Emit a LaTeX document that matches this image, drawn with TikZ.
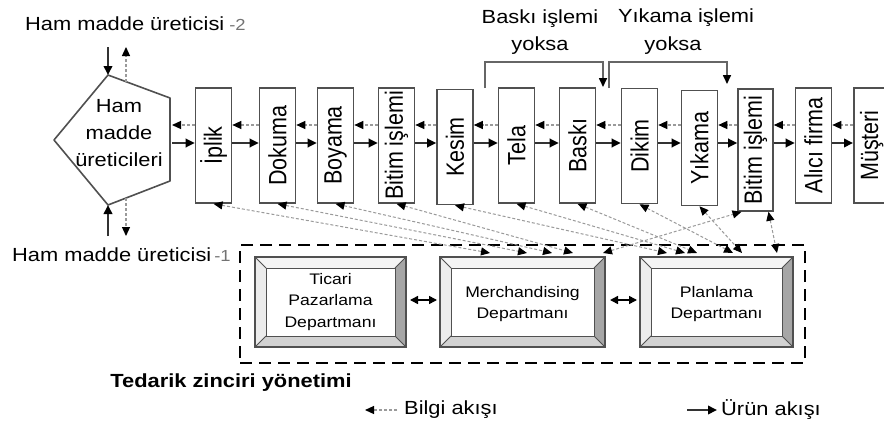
\documentclass[tikz,border=0pt]{standalone}
\usepackage{fontspec}
\setmainfont{Liberation Sans}[FakeStretch=1.15]
\newfontfamily\rotfont{Liberation Sans}[FakeStretch=0.86]
\usetikzlibrary{arrows.meta}
\definecolor{bordergray}{HTML}{505050}
\definecolor{bevtop}{HTML}{F4F4F4}
\definecolor{bevleft}{HTML}{ECECEC}
\definecolor{bevright}{HTML}{A6A6A6}
\definecolor{bevbottom}{HTML}{D2D2D2}
\definecolor{infogray}{HTML}{9A9A9A}
\newcommand\bevelbox[1]{%
  \fill[bevtop] (#1.north west) -- (#1.north east) -- ([shift={(-11,11)}]#1.north east) -- ([shift={(11,11)}]#1.north west) -- cycle;
  \fill[bevleft] (#1.north west) -- ([shift={(11,11)}]#1.north west) -- ([shift={(11,-11)}]#1.south west) -- (#1.south west) -- cycle;
  \fill[bevright] (#1.north east) -- ([shift={(-11,11)}]#1.north east) -- ([shift={(-11,-11)}]#1.south east) -- (#1.south east) -- cycle;
  \fill[bevbottom] (#1.south west) -- ([shift={(11,-11)}]#1.south west) -- ([shift={(-11,-11)}]#1.south east) -- (#1.south east) -- cycle;
  \draw[bordergray, line width=1pt] ([shift={(11,11)}]#1.north west) rectangle ([shift={(-11,-11)}]#1.south east);
  \draw[bordergray, line width=0.8pt] (#1.north west) -- ([shift={(11,11)}]#1.north west)
     (#1.north east) -- ([shift={(-11,11)}]#1.north east)
     (#1.south west) -- ([shift={(11,-11)}]#1.south west)
     (#1.south east) -- ([shift={(-11,-11)}]#1.south east);
  \draw[bordergray, line width=1.3pt] (#1.north west) rectangle (#1.south east);
}
\begin{document}
\begin{tikzpicture}[x=1pt,y=-1pt,
  pbox/.style={draw=bordergray, line width=1.6pt, fill=white, minimum width=36pt, minimum height=115pt, inner sep=0pt, font=\rotfont\fontsize{25}{25}\selectfont},
  dept/.style={fill=white, minimum height=90pt, inner sep=0pt, outer sep=0pt},
  depttext/.style={font=\fontsize{15.3}{21.5}\selectfont, align=center, inner sep=0pt},
  info/.style={draw=infogray, line width=1.2pt, dash pattern=on 3pt off 2pt, -{Triangle[length=9pt,width=8pt,color=black]}},
  infoboth/.style={draw=infogray, line width=1pt, dash pattern=on 3pt off 2pt, {Triangle[length=9pt,width=8pt,color=black]}-{Triangle[length=9pt,width=8pt,color=black]}},
  prod/.style={draw=black!80, line width=1.9pt, -{Triangle[length=9pt,width=8.5pt,color=black]}},
  dbl/.style={draw=black, line width=1.5pt, {Triangle[length=8pt,width=8pt]}-{Triangle[length=8pt,width=8pt]}},
  bracket/.style={draw=black!60, line width=1.6pt, -{Triangle[length=9pt,width=8pt,color=black]}},
  lbl/.style={font=\fontsize{19}{27}\selectfont, inner sep=0pt},
  region/.style={draw=black, line width=2.6pt, dash pattern=on 12pt off 7pt, minimum width=565pt, minimum height=118pt, inner sep=0pt}
]
\useasboundingbox (0,0) rectangle (884,423);
\fill[white] (0,0) rectangle (884,423);

% pentagon
\coordinate (p1) at (108,75);
\coordinate (p2) at (170,98);
\coordinate (p3) at (170,181);
\coordinate (p4) at (108,205);
\coordinate (p5) at (54,140);
\draw[bordergray, line width=1.6pt, line join=round] (p1) -- (p2) -- (p3) -- (p4) -- (p5) -- cycle;
\node[lbl, align=center] (hm) at (119,133.5) {Ham\\madde\\üreticileri};

% top / bottom labels
\node[lbl, anchor=west] (top) at (25,24) {Ham madde üreticisi\hspace{5pt}{\color{black!55}\fontsize{16}{16}\selectfont -2}};
\node[lbl, anchor=west] (bot) at (12,255) {Ham madde üreticisi\hspace{3pt}{\color{black!55}\fontsize{16}{16}\selectfont -1}};

% vertical arrows at pentagon
\coordinate (ht1) at (108,47);
\coordinate (pt2) at (126,82);
\coordinate (ht2) at (126,47);
\coordinate (hb1) at (108,236);
\coordinate (pb2) at (126,198);
\coordinate (hb2) at (126,236);
\draw[prod] (ht1) -- (p1);
\draw[info] (pt2) -- (ht2);
\draw[prod] (hb1) -- (p4);
\draw[info] (pb2) -- (hb2);

% process boxes
\node[pbox] (iplik)  at (213.5,145.5) {\rotatebox{90}{İplik}};
\node[pbox] (dokuma) at (277.5,145.5) {\rotatebox{90}{Dokuma}};
\node[pbox] (boyama) at (335.5,145.5) {\rotatebox{90}{Boyama}};
\node[pbox] (bitima) at (396.5,145.5) {\rotatebox{90}{Bitim işlemi}};
\node[pbox] (kesim)  at (455,147) {\rotatebox{90}{Kesim}};
\node[pbox] (tela)   at (516.5,145.5) {\rotatebox{90}{Tela}};
\node[pbox] (baski)  at (577.5,145.5) {\rotatebox{90}{Baskı}};
\node[pbox] (dikim)  at (639.5,146) {\rotatebox{90}{Dikim}};
\node[pbox] (yikama) at (699.5,148) {\rotatebox{90}{Yıkama}};
\node[pbox, minimum width=35pt, minimum height=122pt] (bitimb) at (755.5,150) {\rotatebox{90}{Bitim işlemi}};
\node[pbox] (alici)  at (813.5,145.5) {\rotatebox{90}{Alıcı firma}};
\node[pbox, anchor=west] (musteri) at (853,145.5) {\rotatebox{90}{Müşteri}};

% pentagon <-> İplik
\coordinate (pr1) at (172,125);
\coordinate (pr2) at (172,143);
\draw[info] (iplik.west |- pr1) -- (pr1);
\draw[prod] (pr2) -- (iplik.west |- pr2);

% flows between boxes
\coordinate (yi) at (0,125);
\coordinate (yp) at (0,143);
\foreach \a/\b in {iplik/dokuma, dokuma/boyama, boyama/bitima, bitima/kesim, kesim/tela, tela/baski, baski/dikim, dikim/yikama, yikama/bitimb, bitimb/alici, alici/musteri}{
  \draw[info] (\b.west |- yi) -- (\a.east |- yi);
  \draw[prod] (\a.east |- yp) -- (\b.west |- yp);
}

% brackets
\coordinate (bk1) at (485,88);
\coordinate (bk2) at (603,87);
\coordinate (yk1) at (609,88);
\coordinate (yk2) at (727,84);
\draw[bracket] (bk1) -- ++(0,-26) -| (bk2);
\draw[bracket, -] (yk1) -- ++(0,-26) -| ([yshift=8pt]yk2);
\draw[bracket] ([yshift=9pt]yk2) -- (yk2);
\node[lbl, align=center] (bl) at (540,32) {Baskı işlemi\\yoksa};
\node[lbl] (yl1) at (686,18) {Yıkama işlemi};
\node[lbl] (yl2) at (673,46) {yoksa};

% supply chain region
\node[region] (reg) at (522.5,304) {};
\node[dept, minimum width=151pt] (tic) at (330.5,302) {};
\bevelbox{tic}
\node[dept, minimum width=165pt] (mer) at (522.5,302) {};
\bevelbox{mer}
\node[dept, minimum width=153pt] (pla) at (716.5,302) {};
\bevelbox{pla}
\node[depttext] (tict) at (tic) {Ticari\\Pazarlama\\Departmanı};
\node[depttext] (mert) at ([yshift=-2pt]mer) {Merchandising\\Departmanı};
\node[depttext] (plat) at ([yshift=-2pt]pla) {Planlama\\Departmanı};
\draw[dbl] ([shift={(4,-2)}]tic.east) -- ([shift={(-3,-2)}]mer.west);
\draw[dbl] ([shift={(5,-2)}]mer.east) -- ([shift={(-3,-2)}]pla.west);

% information lines to departments
\coordinate (t1) at (490,253);
\coordinate (t2) at (527,253);
\coordinate (t3) at (552,253);
\coordinate (t4) at (573,253);
\coordinate (t5) at (667,253);
\coordinate (t6) at (685,253);
\coordinate (t7) at (697,253);
\coordinate (t8) at (733,253);
\coordinate (t9) at (742,253);
\coordinate (t10) at (603,253);
\coordinate (t11) at (777,253);
\draw[infoboth] (iplik.south) -- (t1);
\draw[infoboth] (dokuma.south) -- (t2);
\draw[infoboth] (boyama.south) -- (t3);
\draw[infoboth] (bitima.south) -- (t4);
\draw[infoboth] (kesim.south) -- (t5);
\draw[infoboth] (tela.south) -- (t6);
\draw[infoboth] (baski.south) -- (t7);
\draw[infoboth] (dikim.south) -- (t8);
\draw[infoboth] (yikama.south) -- (t9);
\draw[infoboth] (t10) -- ([xshift=-14pt]bitimb.south);
\draw[infoboth] ([xshift=13pt]bitimb.south) -- (t11);

% title and legend
\node[font=\bfseries\fontsize{19}{19}\selectfont, inner sep=0pt] (tzy) at (231,383) {Tedarik zinciri yönetimi};
\coordinate (lg1) at (397,410);
\coordinate (lg2) at (365,410);
\draw[info] (lg1) -- (lg2);
\node[lbl, anchor=west] (lgb) at (404,410) {Bilgi akışı};
\coordinate (lg3) at (687,410);
\coordinate (lg4) at (717,410);
\draw[prod] (lg3) -- (lg4);
\node[lbl, anchor=west] (lgu) at (721,410) {Ürün akışı};
\end{tikzpicture}
\end{document}
